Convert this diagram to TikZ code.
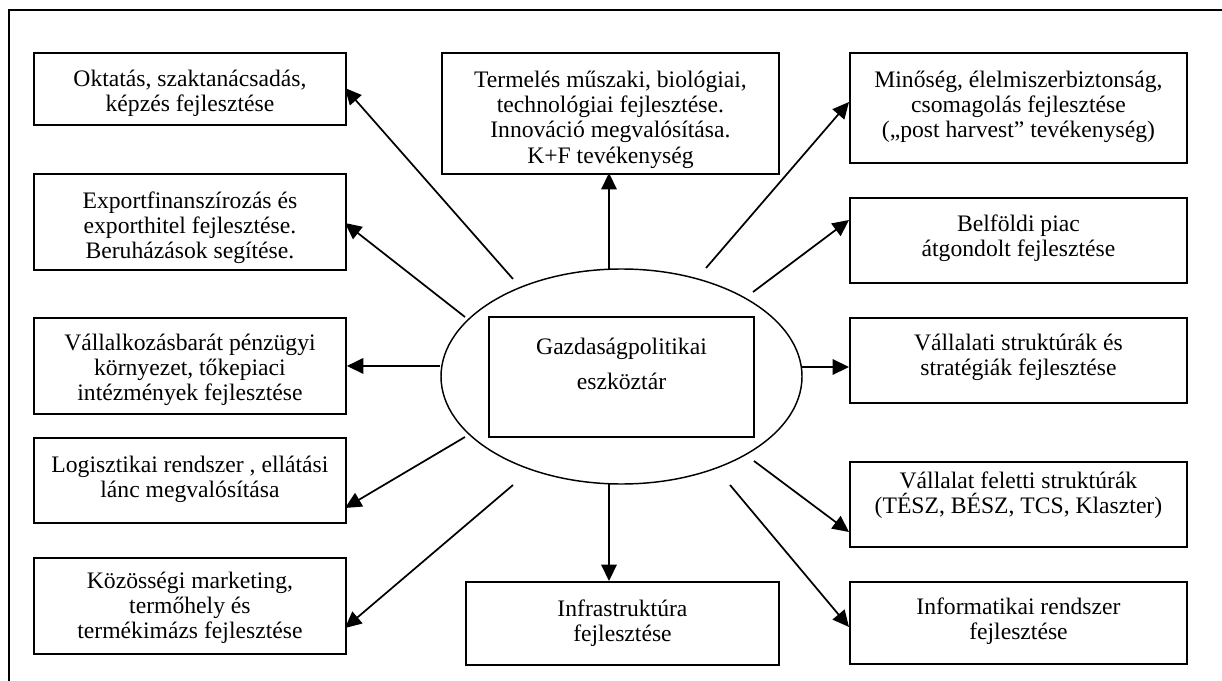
\documentclass[tikz,border=0pt]{standalone}
\usepackage{fontspec}
\setmainfont{Liberation Serif}
\usetikzlibrary{arrows.meta,shapes.geometric}
\tikzset{
  box/.style={draw, line width=1.05pt, rectangle, inner sep=0pt},
  txt/.style={align=center, inner sep=0pt, font=\fontsize{13}{13.8}\selectfont, execute at begin node=\strut},
  arr/.style={line width=0.95pt, -{Triangle[length=9pt,width=8.5pt]}},
  oval/.style={draw, line width=0.8pt, ellipse, inner sep=0pt},
}
\newcommand\tbox[7]{%
  \node[box, minimum width={(#4-#2)*0.55pt}, minimum height={(#5-#3)*0.55pt}, anchor=north west] (#1) at (#2,#3) {};
  \node[txt, anchor=north] (#1-t) at ([yshift={-#6*0.55pt}]#1.north) {#7};
}
\begin{document}
\begin{tikzpicture}[x=0.55pt,y=-0.55pt]
\useasboundingbox (0,0) rectangle (1222,681);
\fill[white] (0,0) rectangle (1222,681);
% frame
\draw[line width=1.05pt] (1240,700) -- (9,700) -- (9,10) -- (1240,10);
% left column
\tbox{L1}{33}{52}{345}{124}{18}{Oktatás, szaktanácsadás,\\képzés fejlesztése}
\tbox{L2}{33}{173}{345}{269}{18}{Exportfinanszírozás és\\exporthitel fejlesztése.\\Beruházások segítése.}
\tbox{L3}{33}{317}{345}{413}{17}{Vállalkozásbarát pénzügyi\\környezet, tőkepiaci\\intézmények fejlesztése}
\tbox{L4}{33}{437}{345}{522}{19}{Logisztikai rendszer , ellátási\\lánc megvalósítása}
\tbox{L5}{33}{557}{345}{653}{15}{Közösségi marketing,\\termőhely és\\termékimázs fejlesztése}
% top and bottom center
\tbox{T}{441}{52}{778}{173}{19}{Termelés műszaki, biológiai,\\technológiai fejlesztése.\\Innováció megvalósítása.\\K+F tevékenység}
\tbox{B}{465}{581}{778}{664}{18}{Infrastruktúra\\fejlesztése}
% right column
\tbox{R1}{849}{52}{1186}{162}{19}{Minőség, élelmiszerbiztonság,\\csomagolás fejlesztése\\(„post harvest” tevékenység)}
\tbox{R2}{849}{197}{1186}{282}{17}{Belföldi piac\\átgondolt fejlesztése}
\tbox{R3}{849}{317}{1186}{402}{17}{Vállalati struktúrák és\\stratégiák fejlesztése}
\tbox{R4}{849}{461}{1186}{546}{10}{Vállalat feletti struktúrák\\(TÉSZ, BÉSZ, TCS, Klaszter)}
\tbox{R5}{849}{581}{1186}{663}{16}{Informatikai rendszer\\fejlesztése}
% center
\node[oval, minimum width={361*0.55pt}, minimum height={215*0.55pt}] (E) at (621.5,376.5) {};
\node[box, minimum width={265*0.55pt}, minimum height={120*0.55pt}] (C) at (621.5,377) {};
\node[align=center, inner sep=0pt, font=\fontsize{13}{19.25}\selectfont, execute at begin node=\strut, anchor=north] (C-t) at ([yshift={-22*0.55pt}]C.north) {Gazdaságpolitikai\\eszköztár};
% start points
\coordinate (s1) at (513,279);
\coordinate (s2) at (465,317);
\coordinate (s4) at (465,437);
\coordinate (s5) at (513,485);
\coordinate (s6) at (706,268);
\coordinate (s7) at (753,292);
\coordinate (s8) at (754,461);
\coordinate (s9) at (730,485);
\coordinate (st) at (609,269);
\coordinate (sb) at (609,484);
\coordinate (sr) at (802,367);
% end points
\coordinate (e1) at (345,88);
\coordinate (e2) at (345,223);
\coordinate (e4) at (345,508);
\coordinate (e5) at (345,628);
\coordinate (e6) at (849,102);
\coordinate (e7) at (849,220);
\coordinate (e8) at (849,532);
\coordinate (e9) at (849,627);
\coordinate (et) at (609,173);
\coordinate (eb) at (609,581);
\coordinate (er) at (849,367);
% connectors
\draw[arr] (s1) -- (e1);
\draw[arr] (s2) -- (e2);
\draw[arr] (E.west |- L3.east) -- (L3.east);
\draw[arr] (s4) -- (e4);
\draw[arr] (s5) -- (e5);
\draw[arr] (st) -- (et);
\draw[arr] (sb) -- (eb);
\draw[arr] (s6) -- (e6);
\draw[arr] (s7) -- (e7);
\draw[arr] (sr) -- (er);
\draw[arr] (s8) -- (e8);
\draw[arr] (s9) -- (e9);
\end{tikzpicture}
\end{document}
